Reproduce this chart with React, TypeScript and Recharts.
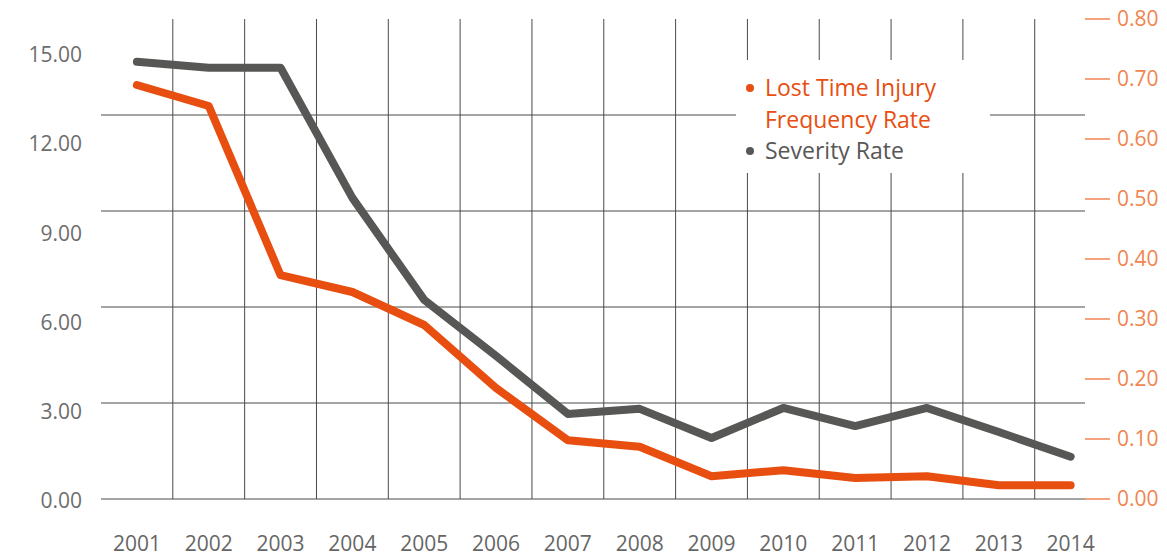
import { LineChart, Line, XAxis, YAxis, CartesianGrid, Legend } from 'recharts';

const years = [2001, 2002, 2003, 2004, 2005, 2006, 2007, 2008, 2009, 2010, 2011, 2012, 2013, 2014];
// Lost Time Injury Frequency Rate (right axis)
const ltifr = [0.69, 0.655, 0.373, 0.345, 0.29, 0.185, 0.098, 0.087, 0.038, 0.048, 0.035, 0.038, 0.023, 0.023];
// Severity Rate (left axis)
const severity = [14.69, 14.49, 14.49, 10.12, 6.69, 4.81, 2.86, 3.03, 2.05, 3.06, 2.45, 3.06, 2.25, 1.42];

const leftTicks = [0, 3, 6, 9, 12, 15];
const rightTicks = [0, 0.1, 0.2, 0.3, 0.4, 0.5, 0.6, 0.7, 0.8];
// grid lines sit between the years, and on their own 5-step vertical scale
const gridXValues = [2001.5, 2002.5, 2003.5, 2004.5, 2005.5, 2006.5, 2007.5, 2008.5, 2009.5, 2010.5, 2011.5, 2012.5, 2013.5];
const gridYTicks = [0, 1, 2, 3, 4];

const ORANGE = '#e84e0f';
const GRAY = '#575756';
const AXIS_ORANGE = '#f08550';

const data = years.map((year, i) => ({ year, ltifr: ltifr[i], severity: severity[i] }));

function LegendBox({ payload }: any) {
  return (
    <div style={{ background: '#fff', width: 254, height: 113, paddingTop: 12, boxSizing: 'border-box' }}>
      {(payload || []).map((p: any) => (
        <div key={p.value} style={{ display: 'flex', alignItems: 'flex-start' }}>
          <div style={{ width: 29, flex: 'none', display: 'flex', paddingLeft: 10, boxSizing: 'border-box' }}>
            <span style={{ width: 8, height: 8, borderRadius: 4, background: p.color, marginTop: 12, display: 'block' }} />
          </div>
          <div style={{ width: 182, color: p.color, fontSize: 23, lineHeight: '31.5px' }}>{p.value}</div>
        </div>
      ))}
    </div>
  );
}

export default function App() {
  return (
    <div style={{ position: 'absolute', left: 0, top: 0, fontFamily: '"Open Sans", sans-serif' }}>
      <LineChart width={1167} height={556} data={data} margin={{ top: 19, right: 0, bottom: 0, left: 0 }}>
        <YAxis yAxisId="grid" type="number" domain={[0, 5]} ticks={gridYTicks} allowDataOverflow width={0} hide />
        <CartesianGrid
          yAxisId="grid"
          verticalValues={gridXValues}
          syncWithTicks
          stroke="#4a4a4a"
          strokeWidth={1}
        />
        <XAxis
          dataKey="year"
          type="number"
          domain={[2000.5, 2014.2]}
          ticks={years}
          allowDataOverflow
          height={57}
          axisLine={false}
          tickLine={false}
          tickSize={0}
          tickMargin={37}
          tick={{ fill: '#666', fontSize: 21 }}
        />
        <YAxis
          yAxisId="left"
          domain={[0, 16.13]}
          ticks={leftTicks}
          allowDataOverflow
          width={101}
          axisLine={false}
          tickLine={false}
          tickSize={0}
          tickMargin={19}
          tickFormatter={(v: number) => v.toFixed(2)}
          tick={{ fill: '#6d6d6d', fontSize: 21, dy: 2 }}
        />
        <YAxis
          yAxisId="right"
          orientation="right"
          domain={[0, 0.8]}
          ticks={rightTicks}
          allowDataOverflow
          width={82}
          axisLine={false}
          tickLine={{ stroke: AXIS_ORANGE, strokeWidth: 1.5 }}
          tickSize={25}
          tickMargin={7}
          tickFormatter={(v: number) => v.toFixed(2)}
          tick={{ fill: AXIS_ORANGE, fontSize: 21 }}
        />
        <Legend
          layout="vertical"
          align="center"
          verticalAlign="middle"
          content={<LegendBox />}
          wrapperStyle={{ left: 736, top: 60, width: 254, height: 113 }}
        />
        <Line
          yAxisId="right"
          dataKey="ltifr"
          name="Lost Time Injury Frequency Rate"
          stroke={ORANGE}
          strokeWidth={8}
          strokeLinecap="round"
          strokeLinejoin="round"
          dot={false}
          activeDot={false}
          isAnimationActive={false}
        />
        <Line
          yAxisId="left"
          dataKey="severity"
          name="Severity Rate"
          stroke={GRAY}
          strokeWidth={8}
          strokeLinecap="round"
          strokeLinejoin="round"
          dot={false}
          activeDot={false}
          isAnimationActive={false}
        />
      </LineChart>
    </div>
  );
}
